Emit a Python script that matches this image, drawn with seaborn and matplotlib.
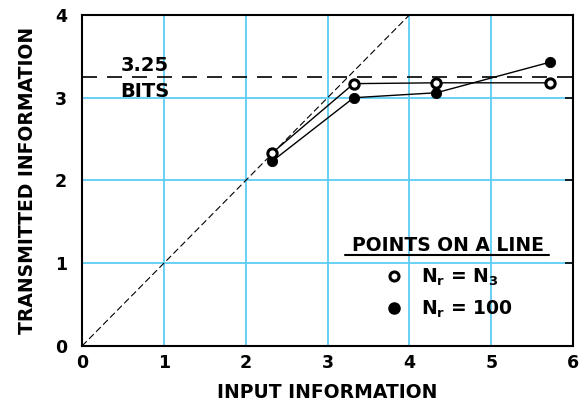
import matplotlib
matplotlib.use("Agg")
import matplotlib.pyplot as plt
import seaborn as sns
import pandas as pd
from matplotlib.lines import Line2D

input_info = [2.32, 3.32, 4.33, 5.72]
open_vals = [2.33, 3.17, 3.18, 3.18]     # N_r = N_3
filled_vals = [2.23, 3.00, 3.06, 3.43]   # N_r = 100
series_names = ["Nr=N3", "Nr=100"]
channel_capacity = 3.25
diag_x = [0, 4]
x_ticks = [0, 1, 2, 3, 4, 5, 6]
y_ticks = [0, 1, 2, 3, 4]

df = pd.DataFrame({
    "input": input_info * 2,
    "transmitted": open_vals + filled_vals,
    "series": [series_names[0]] * 4 + [series_names[1]] * 4,
})

sns.set_style("white")
plt.rcParams["font.family"] = ["DejaVu Sans"]
plt.rcParams["font.weight"] = "bold"
plt.rcParams["text.color"] = "black"
plt.rcParams["axes.labelcolor"] = "black"
plt.rcParams["xtick.color"] = "black"
plt.rcParams["ytick.color"] = "black"

fig = plt.figure(figsize=(5.83, 4.04), dpi=100)
ax = fig.add_axes([0.1407, 0.1436, 0.8423, 0.8194])

grid_color = "#5ccdf5"
for v in x_ticks[1:-1]:
    ax.axvline(v, color=grid_color, lw=1.3, zorder=0)
for v in y_ticks[1:-1]:
    ax.axhline(v, color=grid_color, lw=1.3, zorder=0)

# diagonal y = x
sns.lineplot(x=diag_x, y=diag_x, ax=ax, color="black", lw=0.8,
             linestyle=(0, (6, 3)), zorder=1)
# channel capacity line
ax.axhline(channel_capacity, color="black", lw=1.2, linestyle=(0, (9, 6)), zorder=1)

sns.lineplot(data=df, x="input", y="transmitted", hue="series",
             palette=["black", "black"], lw=1.0, legend=False, ax=ax, zorder=2,
             estimator=None, sort=False)

sub_open = df[df.series == series_names[0]]
sub_fill = df[df.series == series_names[1]]
sns.scatterplot(x=sub_open["input"], y=sub_open["transmitted"], ax=ax,
                marker="o", s=45, facecolor="white", edgecolor="black",
                linewidth=2.2, zorder=4)
sns.scatterplot(x=sub_fill["input"], y=sub_fill["transmitted"], ax=ax,
                marker="o", s=55, color="black", edgecolor="black", zorder=3)

ax.set_xlim(0, 6)
ax.set_ylim(0, 4)
ax.set_xticks(x_ticks)
ax.set_yticks(y_ticks)
ax.set_xticklabels([str(t) for t in x_ticks], fontsize=12.5, fontweight="bold")
ax.set_yticklabels([str(t) for t in y_ticks], fontsize=12.5, fontweight="bold")
ax.tick_params(direction="in", length=6, width=1.2, top=False, right=True,
               pad=6, colors="black")
ax.tick_params(axis="y", pad=11)
for s in ax.spines.values():
    s.set_color("black")
    s.set_linewidth(1.5)

ax.set_xlabel("INPUT INFORMATION", fontsize=13.5, fontweight="bold", labelpad=8,
              color="black")
ax.set_ylabel("TRANSMITTED INFORMATION", fontsize=13.5, fontweight="bold",
              labelpad=13, color="black")

ax.text(0.47, 3.28, "3.25", fontsize=14, fontweight="bold", ha="left",
        va="bottom", color="black")
ax.text(0.47, 3.19, "BITS", fontsize=14, fontweight="bold", ha="left",
        va="top", color="black")

handles = [
    Line2D([], [], marker="o", linestyle="none", markerfacecolor="white",
           markeredgecolor="black", markeredgewidth=2.2, markersize=6.5),
    Line2D([], [], marker="o", linestyle="none", markerfacecolor="black",
           markeredgecolor="black", markersize=8),
]
labels = [r"$\mathbf{N_r}$ = $\mathbf{N_3}$", r"$\mathbf{N_r}$ = 100"]
leg = ax.legend(handles, labels, title="POINTS ON A LINE", loc="center",
                bbox_to_anchor=(0.745, 0.205), frameon=False,
                prop={"size": 13.5, "weight": "bold"}, handletextpad=0.8,
                handlelength=1.2, labelspacing=0.6)
leg.get_title().set_fontsize(13.5)
leg.get_title().set_fontweight("bold")
leg.get_title().set_color("black")
for t in leg.get_texts():
    t.set_color("black")
ax.plot([0.535, 0.95], [0.276, 0.276], transform=ax.transAxes, color="black",
        lw=1.5, clip_on=False)

fig.savefig("out.png", dpi=100)
